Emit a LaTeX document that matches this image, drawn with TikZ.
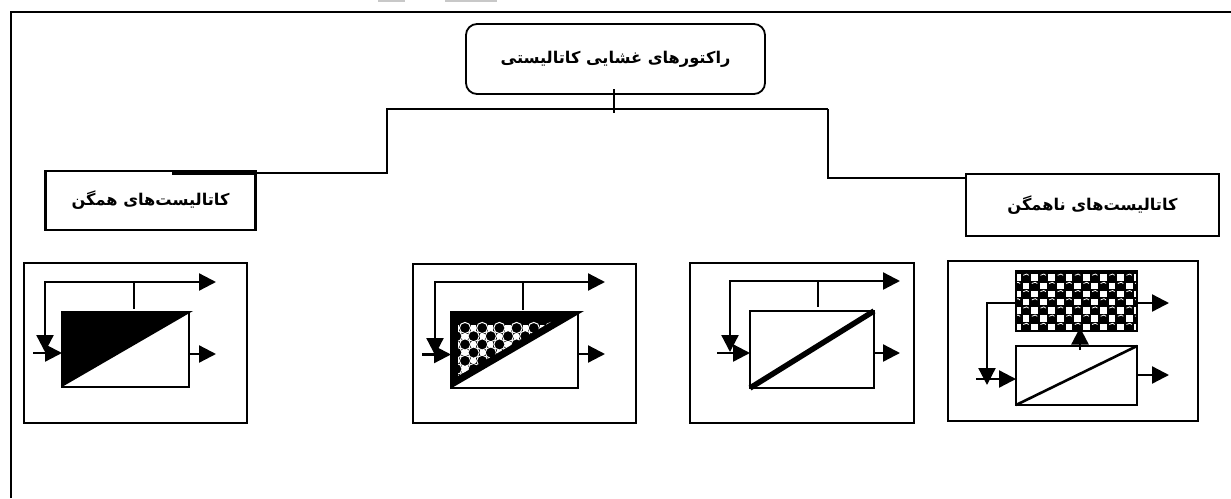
\documentclass[tikz,border=0pt]{standalone}
\usepackage{fontspec}
\usetikzlibrary{arrows.meta}
\newfontfamily\farsi[Script=Arabic]{DejaVu Sans}
\TeXXeTstate=1
\definecolor{inkblack}{HTML}{000000}
\definecolor{smudge}{HTML}{C8C8C8}
\newcommand{\fa}[1]{{\farsi\bfseries\beginR #1\endR}}
\tikzset{
  x=1pt,y=-1pt,
  ln/.style={draw=inkblack,line width=2.3pt,line join=miter},
  fr/.style={draw=inkblack,line width=2.6pt,inner sep=0pt,outer sep=0pt},
  rx/.style={draw=inkblack,line width=2.5pt,inner sep=0pt,outer sep=0pt},
  lbl/.style={fr,font=\fontsize{16.2}{18}\selectfont,text=inkblack},
  arr/.style={ln,-{Triangle[length=17pt,width=17pt]}},
}
\newcommand{\balls}[5]{%
  \foreach \r in {0,...,#3}{
    \foreach \c in {-1,...,#4}{
      \pgfmathsetmacro{\bx}{#1+\c*17.2+mod(\r,2)*8.6}
      \pgfmathsetmacro{\by}{#2+\r*8.2}
      #5
    }
  }
}
\begin{document}
\begin{tikzpicture}
\useasboundingbox (0,0) rectangle (1231,498);
\fill[smudge] (378,0) rectangle (405,2.2);
\fill[smudge] (445,0) rectangle (497,2.2);
\draw[inkblack,line width=2.5pt] (11,498) -- (11,12) -- (1231,12);

% tree
\node[draw=inkblack,line width=1.8pt,rounded corners=11pt,minimum width=299pt,minimum height=70pt,inner sep=0pt,font=\fontsize{16.2}{18}\selectfont] (top) at (615.5,59) {\fa{راکتورهای غشایی کاتالیستی}};
\node[lbl,minimum width=210pt,minimum height=59pt] (homog) at (150.5,200.5) {\fa{کاتالیست‌های همگن}};
\node[lbl,minimum width=253pt,minimum height=62pt] (heterog) at (1092.5,205) {\fa{کاتالیست‌های ناهمگن}};
\coordinate (stemtop) at (614,89);
\coordinate (stembot) at (614,113);
\coordinate (busL) at (387,109);
\coordinate (busR) at (828,109);
\draw[inkblack,line width=2.8pt] (stemtop) -- (stembot);
\draw[ln] (busR) -- (busL) -- (387,173) -- (homog.north east |- 0,173);
\draw[ln] (busR) -- (828,178) -- (heterog.west |- 0,178);
\fill[inkblack] (172,170.5) rectangle (256,174.5);

% panel 1
\node[fr,minimum width=223pt,minimum height=160pt] (p1) at (135.5,343) {};
\node[rx,minimum width=127pt,minimum height=75pt] (r1) at (125.5,349.5) {};
\fill[inkblack] (61,311) -- (193,311) -- (61,387.5) -- cycle;
\coordinate (p1rec) at (45,282);
\coordinate (p1out) at (216,282);
\coordinate (p1tap) at (134,282);
\coordinate (p1in) at (33,353);
\coordinate (p1dn) at (45,352);
\coordinate (p1prod) at (216,354);
\draw[arr] (p1tap) -- (p1out);
\draw[ln] (p1tap) -- (134,309);
\draw[arr] (p1tap) -- (p1rec) -- (p1dn);
\draw[arr] (p1in) -- (r1.west |- p1in);
\draw[arr] (r1.east |- p1prod) -- (p1prod);

% panel 2
\node[fr,minimum width=223pt,minimum height=159pt] (p2) at (524.5,343.5) {};
\node[rx,minimum width=127pt,minimum height=76pt] (r2) at (514.5,350) {};
\fill[inkblack] (450,311) -- (584,311) -- (450,389) -- cycle;
\begin{scope}
  \clip (458,319.5) -- (555,319.5) -- (458,376) -- cycle;
  \balls{465}{328}{6}{6}{%
    \fill[white] (\bx+8.6-2.6,\by-2.6) rectangle (\bx+8.6+2.6,\by+2.6);
    \draw[white,line width=1pt] (\bx,\by) circle (5.6);}
\end{scope}
\coordinate (p2rec) at (435,282);
\coordinate (p2out) at (605,282);
\coordinate (p2tap) at (523,282);
\coordinate (p2in) at (422,354.5);
\coordinate (p2dn) at (435,355);
\coordinate (p2prod) at (605,354);
\draw[arr] (p2tap) -- (p2out);
\draw[ln] (p2tap) -- (523,310);
\draw[arr] (p2tap) -- (p2rec) -- (p2dn);
\draw[arr] (p2in) -- (r2.west |- p2in);
\draw[arr] (r2.east |- p2prod) -- (p2prod);

% panel 3
\node[fr,minimum width=224pt,minimum height=160pt] (p3) at (802,343) {};
\node[rx,minimum width=124pt,minimum height=77pt] (r3) at (812,349.5) {};
\draw[inkblack,line width=5.5pt] (r3.south west) -- (r3.north east);
\coordinate (p3rec) at (730,281);
\coordinate (p3out) at (900,281);
\coordinate (p3tap) at (818,281);
\coordinate (p3in) at (717,353);
\coordinate (p3dn) at (730,352);
\coordinate (p3prod) at (900,353);
\draw[arr] (p3tap) -- (p3out);
\draw[ln] (p3tap) -- (818,307);
\draw[arr] (p3tap) -- (p3rec) -- (p3dn);
\draw[arr] (p3in) -- (r3.west |- p3in);
\draw[arr] (r3.east |- p3prod) -- (p3prod);

% panel 4
\node[fr,minimum width=250pt,minimum height=160pt] (p4) at (1073,341) {};
\node[rx,minimum width=121pt,minimum height=59pt] (r4) at (1076.5,375.5) {};
\node[rx,fill=inkblack,minimum width=121pt,minimum height=60pt] (bed) at (1076.5,301) {};
\begin{scope}
  \clip (1016,271) rectangle (1137,331);
  \balls{1026}{277.5}{7}{7}{%
    \fill[white] (\bx+8.6-3.4,\by-3.2) rectangle (\bx+8.6+3.4,\by+3.2);
    \draw[white,line width=0.8pt] (\bx-2.8,\by-2.2) arc (220:320:3.6);}
\end{scope}
\draw[inkblack,line width=2.6pt] (bed.north west) rectangle (bed.south east);
\draw[inkblack,line width=2.6pt] (r4.south west) -- (r4.north east);
\coordinate (p4turn) at (987,303);
\coordinate (p4dn) at (987,385);
\coordinate (p4in) at (976,379);
\coordinate (p4up) at (1080,350);
\coordinate (p4upt) at (1080,327.5);
\coordinate (p4o1) at (1169,303);
\coordinate (p4o2) at (1169,375);
\draw[arr] (bed.west |- p4turn) -- (p4turn) -- (p4dn);
\draw[arr] (p4in) -- (r4.west |- p4in);
\draw[arr] (p4up) -- (p4upt);
\draw[arr] (bed.east |- p4o1) -- (p4o1);
\draw[arr] (r4.east |- p4o2) -- (p4o2);
\end{tikzpicture}
\end{document}
